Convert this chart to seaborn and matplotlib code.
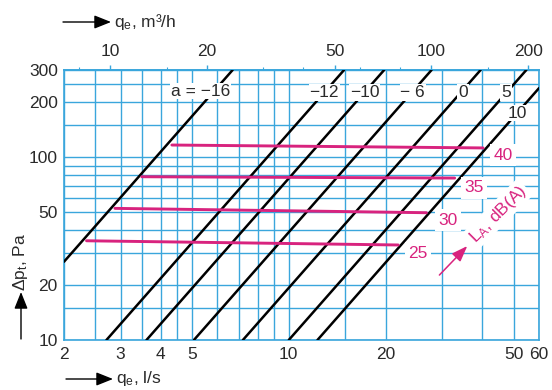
import numpy as np
import pandas as pd
import matplotlib
matplotlib.use('Agg')
import matplotlib.pyplot as plt
import seaborn as sns
from matplotlib.ticker import FixedLocator, FixedFormatter, NullFormatter

# black characteristic lines (log-log straight), start and end point
a_values = [-16, -12, -10, -6, 0, 5, 10]
a_labels = ['a = −16', '−12', '−10', '− 6', '0', '5', '10']
a_q_start = [2.0, 2.71, 3.61, 5.07, 7.2, 10.0, 12.28]
a_dp_start = [26.8, 10, 10, 10, 10, 10, 10]
a_q_end = [6.69, 14.86, 19.8, 27.8, 39.5, 54.8, 60.0]
a_dp_end = [300, 300, 300, 300, 300, 300, 238.7]
a_label_q = [5.33, 12.9, 17.2, 24.3, 34.8, 47.4, 51.3]
a_label_dp = [230, 227, 227, 227, 227, 227, 174.5]

# sound level lines L_A, dB(A)
la_levels = [25, 30, 35, 40]
la_q_start = [2.35, 2.88, 3.49, 4.33]
la_dp_start = [34.9, 52.5, 78.2, 116.6]
la_q_end = [21.9, 26.8, 32.8, 40.2]
la_dp_end = [33.1, 49.7, 76.9, 112.4]
la_label_q = [25.2, 31.3, 37.7, 46.3]
la_label_dp = [29.9, 45.3, 67.9, 102.8]

# axes ticks
x_major = [2, 3, 4, 5, 10, 20, 50, 60]
x_minor = [2.5, 3.5, 4.5, 6, 7, 8, 9, 15, 30, 40]
y_major = [10, 20, 50, 100, 200, 300]
y_minor = [15, 30, 40, 60, 70, 80, 90, 150, 250]
top_major = [10, 20, 50, 100, 200]
top_minor = [8, 15, 30, 40, 60, 80, 150]

GRID = '#3aa6dc'
MAG = '#d8237e'
TXT = '#2a2a2a'

sns.set_style('white')
plt.rcParams['font.family'] = ['Liberation Sans', 'DejaVu Sans']
plt.rcParams['mathtext.default'] = 'regular'
FS = 12.5

fig = plt.figure(figsize=(5.52, 3.90), dpi=100)
ax = fig.add_axes([64 / 552, 1 - 340 / 390, 475 / 552, 270 / 390])

a_df = pd.DataFrame({
    'a': a_values * 2,
    'q': a_q_start + a_q_end,
    'dp': a_dp_start + a_dp_end,
})
la_df = pd.DataFrame({
    'la': la_levels * 2,
    'q': la_q_start + la_q_end,
    'dp': la_dp_start + la_dp_end,
})

sns.lineplot(data=a_df, x='q', y='dp', hue='a', palette={a: 'black' for a in a_values},
             estimator=None, sort=False, lw=1.8, legend=False, ax=ax, zorder=3)
sns.lineplot(data=la_df, x='q', y='dp', hue='la', palette={l: MAG for l in la_levels},
             estimator=None, sort=False, lw=2.1, legend=False, ax=ax, zorder=4)

ax.set_xscale('log')
ax.set_yscale('log')
ax.set_xlim(2, 60)
ax.set_ylim(10, 300)

ax.xaxis.set_major_locator(FixedLocator(x_major))
ax.xaxis.set_major_formatter(FixedFormatter([str(v) for v in x_major]))
ax.xaxis.set_minor_locator(FixedLocator(x_minor))
ax.xaxis.set_minor_formatter(NullFormatter())
ax.yaxis.set_major_locator(FixedLocator(y_major))
ax.yaxis.set_major_formatter(FixedFormatter([str(v) for v in y_major]))
ax.yaxis.set_minor_locator(FixedLocator(y_minor))
ax.yaxis.set_minor_formatter(NullFormatter())

ax.set_axisbelow(True)
ax.grid(which='both', color=GRID, lw=1.0)
for s in ax.spines.values():
    s.set_color(GRID)
    s.set_linewidth(1.2)
ax.tick_params(axis='x', which='both', length=0, pad=5, labelsize=FS, labelcolor=TXT)
ax.tick_params(axis='y', which='major', length=2.5, color=GRID, pad=2, labelsize=FS, labelcolor=TXT)
ax.tick_params(axis='y', which='minor', length=0)
ax.set_xlabel('')
ax.set_ylabel('')

# top axis in m3/h
secax = ax.secondary_xaxis('top', functions=(lambda q: q * 3.6, lambda m: m / 3.6))
secax.xaxis.set_major_locator(FixedLocator(top_major))
secax.xaxis.set_major_formatter(FixedFormatter([str(v) for v in top_major]))
secax.xaxis.set_minor_locator(FixedLocator(top_minor))
secax.xaxis.set_minor_formatter(NullFormatter())
secax.tick_params(which='major', length=3.8, width=1.0, color=GRID, pad=4, labelsize=FS, labelcolor=TXT)
secax.tick_params(which='minor', length=2.2, width=0.8, color=GRID)
secax.spines['top'].set_color(GRID)
secax.spines['top'].set_linewidth(1.2)

white = dict(facecolor='white', edgecolor='none', pad=0.6)
for lab, q, dp in zip(a_labels, a_label_q, a_label_dp):
    ax.text(q, dp, lab, ha='center', va='center', fontsize=FS, color=TXT, bbox=white, zorder=6)
for lvl, q, dp in zip(la_levels, la_label_q, la_label_dp):
    ax.text(q, dp, str(lvl), ha='center', va='center', fontsize=FS, color=MAG,
            bbox=dict(facecolor='white', edgecolor='none', pad=2.5), zorder=6)

ax.text(44.7, 48.9, 'L$_A$, dB(A)', rotation=45, rotation_mode='anchor', ha='center', va='center',
        fontsize=FS, color=MAG, bbox=dict(facecolor='white', edgecolor='none', pad=1.5), zorder=6)
ax.annotate('', xy=(36.4, 33.5), xytext=(29.0, 22.1),
            arrowprops=dict(arrowstyle='-|>,head_length=0.6,head_width=0.22', color=MAG,
                            lw=1.1, mutation_scale=16), zorder=6)

# axis titles with arrows (figure pixel coordinates)
def fx(px):
    return px / 552

def fy(py):
    return 1 - py / 390

arrow = dict(arrowstyle='-|>,head_length=0.6,head_width=0.24', color='black', lw=1.0,
             mutation_scale=17, shrinkA=0, shrinkB=0)
fig.add_artist(matplotlib.patches.FancyArrowPatch((fx(63), fy(22)), (fx(111), fy(22)),
                                                  transform=fig.transFigure, **arrow))
fig.text(fx(114), fy(22), 'q$_e$, m³/h', ha='left', va='center', fontsize=FS, color=TXT)
fig.add_artist(matplotlib.patches.FancyArrowPatch((fx(66), fy(379)), (fx(113), fy(379)),
                                                  transform=fig.transFigure, **arrow))
fig.text(fx(116), fy(379), 'q$_e$, l/s', ha='left', va='center', fontsize=FS, color=TXT)
fig.add_artist(matplotlib.patches.FancyArrowPatch((fx(21), fy(339)), (fx(21), fy(292)),
                                                  transform=fig.transFigure, **arrow))
fig.text(fx(21), fy(262), 'Δp$_t$, Pa', ha='center', va='center', rotation=90, fontsize=FS, color=TXT)

fig.savefig('out.png', dpi=100)
